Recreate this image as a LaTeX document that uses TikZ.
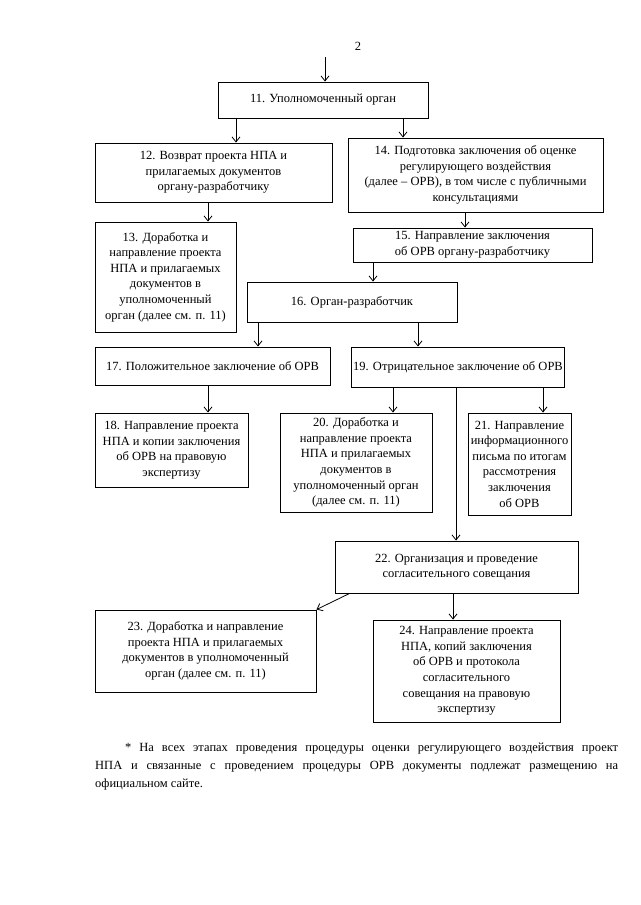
\documentclass[tikz,border=0pt]{standalone}
\usepackage{fontspec}
\setmainfont{Liberation Serif}
\usetikzlibrary{arrows.meta}
\begin{document}
\begin{tikzpicture}[x=1pt,y=-1pt,
  every node/.style={inner sep=0pt},
  stagebox/.style={draw,line width=0.9pt,align=center,font=\fontsize{12.5}{15.6}\selectfont,minimum width=#1},
  arr/.style={line width=0.8pt,-{Straight Barb[length=5pt,width=8pt,line width=0.8pt]}},
  ln/.style={line width=0.8pt}]
\useasboundingbox (0,0) rectangle (640,905);
\node (pg) at (358,46) {\fontsize{12.5}{14}\selectfont 2};
\coordinate (top) at (325,57);
\node[stagebox=210,minimum height=36] (n11) at (323,100) {11. Уполномоченный орган};
\node[stagebox=237,minimum height=59] (n12) at (213.5,172.5) {12. Возврат проекта НПА и\\прилагаемых документов\\органу-разработчику};
\node[stagebox=255,minimum height=74] (n14) at (475.5,175) {14. Подготовка заключения об оценке\\регулирующего воздействия\\(далее – ОРВ), в том числе с публичными\\консультациями};
\node[stagebox=141,minimum height=110] (n13) at (165.5,277) {13. Доработка и\\направление проекта\\НПА и прилагаемых\\документов в\\уполномоченный\\орган (далее см. п. 11)};
\node[stagebox=239,minimum height=34] (n15) at (472.5,245) {15. Направление заключения\\об ОРВ органу-разработчику};
\node[stagebox=210,minimum height=40] (n16) at (352,302) {16. Орган-разработчик};
\node[stagebox=235,minimum height=38] (n17) at (212.5,366) {17. Положительное заключение об ОРВ};
\node[stagebox=213,minimum height=40] (n19) at (458,367) {19. Отрицательное заключение об ОРВ};
\node[stagebox=153,minimum height=74] (n18) at (171.5,450) {18. Направление проекта\\НПА и копии заключения\\об ОРВ на правовую\\экспертизу};
\node[stagebox=152,minimum height=99] (n20) at (356,462.5) {20. Доработка и\\направление проекта\\НПА и прилагаемых\\документов в\\уполномоченный орган\\(далее см. п. 11)};
\node[stagebox=103,minimum height=102] (n21) at (519.5,464) {21. Направление\\информационного\\письма по итогам\\рассмотрения\\заключения\\об ОРВ};
\node[stagebox=243,minimum height=52] (n22) at (456.5,567) {22. Организация и проведение\\согласительного совещания};
\node[stagebox=221,minimum height=82] (n23) at (205.5,651) {23. Доработка и направление\\проекта НПА и прилагаемых\\документов в уполномоченный\\орган (далее см. п. 11)};
\node[stagebox=187,minimum height=102] (n24) at (466.5,671) {24. Направление проекта\\НПА, копий заключения\\об ОРВ и протокола\\согласительного\\совещания на правовую\\экспертизу};
\node[anchor=north west,text width=523,align=justify,font=\fontsize{12.5}{18}\selectfont] (fn) at (95,743)
 {\hspace*{30pt}* На всех этапах проведения процедуры оценки регулирующего воздействия проект\linebreak НПА и связанные с проведением процедуры ОРВ документы подлежат размещению на\linebreak официальном сайте.};
% connectors
\coordinate (xa) at (236,0);
\coordinate (xb) at (403,0);
\coordinate (xc) at (208,0);
\coordinate (xd) at (465,0);
\coordinate (xe) at (373,0);
\coordinate (xf) at (258,0);
\coordinate (xg) at (418,0);
\coordinate (xh) at (393,0);
\coordinate (xi) at (543,0);
\coordinate (xj) at (456,0);
\coordinate (xk) at (453,0);
\draw[arr] (top) -- (n11.north -| top);
\draw[arr] (n11.south -| xa) -- (n12.north -| xa);
\draw[arr] (n11.south -| xb) -- (n14.north -| xb);
\draw[arr] (n12.south -| xc) -- (n13.north -| xc);
\draw[arr] (n14.south -| xd) -- (n15.north -| xd);
\draw[arr] (n15.south -| xe) -- (n16.north -| xe);
\draw[arr] (n16.south -| xf) -- (n17.north -| xf);
\draw[arr] (n16.south -| xg) -- (n19.north -| xg);
\draw[arr] (n17.south -| xc) -- (n18.north -| xc);
\draw[arr] (n19.south -| xh) -- (n20.north -| xh);
\draw[arr] (n19.south -| xi) -- (n21.north -| xi);
\draw[arr] (n19.south -| xj) -- (n22.north -| xj);
\draw[arr] ([xshift=15pt]n22.south west) -- (n23.north east);
\draw[arr] (n22.south -| xk) -- (n24.north -| xk);
\end{tikzpicture}
\end{document}
